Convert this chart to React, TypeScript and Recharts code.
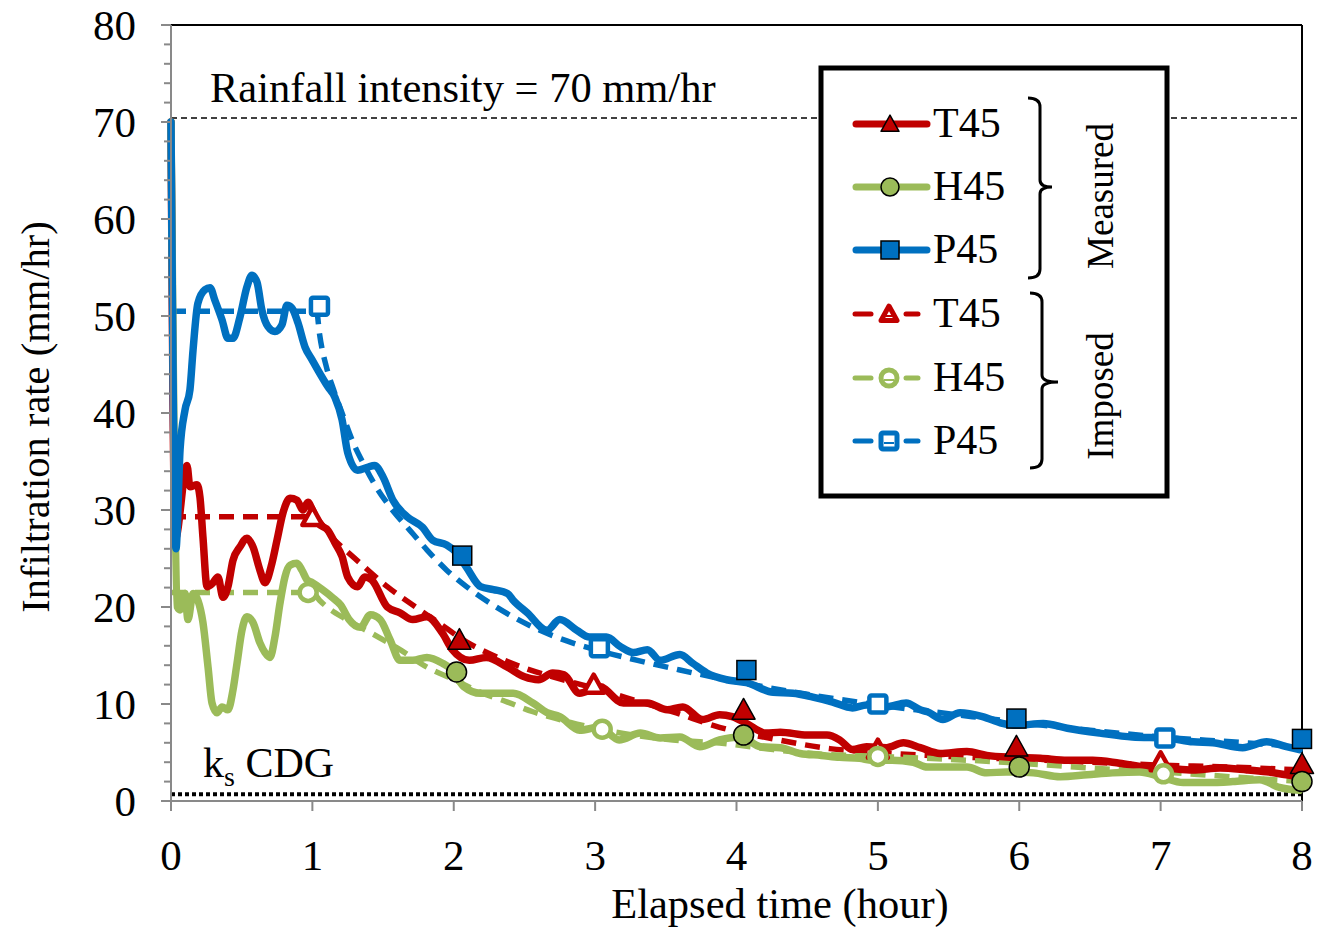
import React from 'react';
import { LineChart, Line, XAxis, YAxis, ReferenceLine } from 'recharts';

type Pt = [number, number];

const xTicks = [0, 1, 2, 3, 4, 5, 6, 7, 8];
const yTicks = Array.from({ length: 41 }, (_, i) => i * 2);

const rainfallIntensity = 70.4;
const ksCdg = 0.7;

// measured infiltration rate (solid lines)
const t45Measured: Pt[] = [
  [0, 70], [0.03, 27], [0.113, 34.6], [0.134, 32.4], [0.184, 32.6], [0.205, 31.3], [0.226, 27.2], [0.255, 22.1],
  [0.297, 22.5], [0.332, 23.1], [0.368, 21], [0.403, 22.1], [0.438, 24.8], [0.488, 26.2], [0.537, 27.1], [0.58, 26.2],
  [0.629, 23.8], [0.665, 22.5], [0.714, 24.5], [0.75, 26.9], [0.792, 29.7], [0.842, 31.2], [0.891, 31], [0.933, 30],
  [0.969, 30.8], [1.0, 30], [1.04, 28.7], [1.11, 27.9], [1.16, 26.6], [1.21, 25.2], [1.25, 23.1], [1.32, 22.1],
  [1.37, 23.1], [1.42, 22.8], [1.53, 20], [1.62, 19.4], [1.71, 18.7], [1.81, 19], [1.92, 17.3], [1.99, 15.6],
  [2.11, 14.5], [2.23, 14.8], [2.38, 13.8], [2.5, 12.8], [2.6, 12.5], [2.7, 13.2], [2.78, 13.0], [2.89, 11.1],
  [3.03, 11.8], [3.2, 10.1], [3.37, 10.1], [3.51, 9.4], [3.62, 9.7], [3.76, 8.4], [3.88, 8.9], [3.97, 8.7],
  [4.07, 8.0], [4.21, 7.0], [4.31, 7.1], [4.5, 6.8], [4.64, 6.8], [4.73, 6.3], [4.82, 5.3], [4.92, 5.6],
  [5.06, 5.5], [5.18, 6.0], [5.3, 5.5], [5.44, 4.9], [5.63, 5.1], [5.77, 4.7], [5.95, 4.5], [6.15, 4.4],
  [6.34, 4.2], [6.52, 4.2], [6.71, 3.9], [6.9, 3.5], [7.04, 3.4], [7.23, 3.2], [7.42, 3.4], [7.61, 3.2],
  [7.75, 3.0], [7.89, 2.7], [7.98, 2.5],
];

const h45Measured: Pt[] = [
  [0, 70], [0.045, 20], [0.064, 19.7], [0.099, 21.4], [0.12, 18.7], [0.156, 21.4], [0.19, 20.7], [0.226, 18.4],
  [0.262, 13.8], [0.29, 10.1], [0.325, 9.1], [0.361, 9.7], [0.403, 9.4], [0.438, 11.4], [0.467, 14.2], [0.502, 17.6],
  [0.537, 19], [0.58, 18.4], [0.629, 16.3], [0.665, 15.3], [0.7, 14.8], [0.735, 16.9], [0.771, 20.4], [0.806, 23.1],
  [0.842, 24.3], [0.891, 24.5], [0.926, 23.8], [0.962, 22.8], [1.0, 22.5], [1.07, 21.8], [1.14, 21], [1.2, 20.2],
  [1.26, 18.7], [1.34, 17.9], [1.41, 19.2], [1.48, 18.7], [1.55, 16.6], [1.62, 14.5], [1.71, 14.5], [1.81, 14.8],
  [1.92, 14.2], [1.99, 13.5], [2.07, 11.8], [2.19, 11.1], [2.28, 11.1], [2.42, 11.1], [2.56, 10.1], [2.66, 9.1],
  [2.75, 8.7], [2.89, 7.3], [3.03, 7.6], [3.17, 6.3], [3.32, 7.0], [3.46, 6.5], [3.6, 6.6], [3.74, 5.6],
  [3.88, 6.3], [4.03, 6.6], [4.17, 5.6], [4.31, 5.5], [4.45, 4.9], [4.6, 4.7], [4.73, 4.5], [4.87, 4.4],
  [4.96, 4.2], [5.1, 4.2], [5.25, 4.0], [5.35, 3.5], [5.44, 3.5], [5.63, 3.5], [5.77, 2.9], [5.91, 3.0],
  [6.1, 2.9], [6.29, 2.5], [6.48, 2.7], [6.66, 2.9], [6.85, 3.0], [7.0, 2.5], [7.16, 1.9], [7.33, 1.9],
  [7.51, 2.0], [7.7, 2.2], [7.84, 1.4], [7.98, 1.1],
];

const p45Measured: Pt[] = [
  [0, 70], [0.035, 26], [0.064, 36.2], [0.099, 40.3], [0.134, 42.4], [0.156, 46.5], [0.19, 51.3], [0.24, 52.7],
  [0.276, 52.9], [0.311, 51.6], [0.361, 49.6], [0.403, 47.7], [0.438, 47.7], [0.488, 49.9], [0.537, 53], [0.573, 54.2],
  [0.608, 53.5], [0.643, 50.6], [0.686, 48.9], [0.735, 48.4], [0.785, 49.1], [0.82, 51.1], [0.856, 50.8], [0.898, 49.3],
  [0.948, 46.8], [0.997, 45.5], [1.04, 44.4], [1.11, 42.7], [1.16, 41.6], [1.21, 39.3], [1.25, 35.9], [1.32, 34.1],
  [1.39, 34.4], [1.44, 34.6], [1.5, 33.4], [1.57, 31], [1.67, 29.3], [1.78, 28.2], [1.85, 26.9], [1.95, 26.4],
  [2.02, 25.6], [2.09, 24.1], [2.19, 22.1], [2.28, 21.8], [2.38, 21.4], [2.42, 20.7], [2.52, 19.4], [2.66, 17.6],
  [2.75, 18.7], [2.87, 17.6], [2.96, 16.9], [3.08, 16.9], [3.18, 15.9], [3.27, 15.3], [3.37, 15.6], [3.46, 14.5],
  [3.6, 15.1], [3.69, 14.2], [3.79, 13.2], [3.93, 12.5], [4.07, 12.2], [4.26, 11.2], [4.4, 11.1], [4.54, 10.7],
  [4.68, 10.2], [4.82, 9.6], [4.92, 9.9], [5.06, 9.7], [5.2, 10.1], [5.3, 9.4], [5.35, 9.2], [5.46, 8.4],
  [5.58, 9.1], [5.74, 8.7], [5.88, 8.0], [5.98, 7.8], [6.17, 8.0], [6.34, 7.5], [6.57, 7.0], [6.8, 6.6],
  [7.04, 6.5], [7.23, 6.1], [7.37, 6.0], [7.58, 5.5], [7.75, 6.1], [7.89, 5.6], [7.98, 5.3],
];

// measured sample points (filled markers)
const t45MeasuredMarks: Pt[] = [[2.04, 16.6], [4.05, 9.4], [5.98, 5.6], [8.0, 3.8]];
const h45MeasuredMarks: Pt[] = [[2.02, 13.3], [4.05, 6.8], [6.0, 3.5], [8.0, 2.0]];
const p45MeasuredMarks: Pt[] = [[2.06, 25.3], [4.07, 13.5], [5.98, 8.5], [8.0, 6.4]];

// imposed infiltration rate (dashed lines)
const t45Imposed: Pt[] = [
  [0, 29.3], [1.0, 29.3], [1.15, 27], [1.34, 24.5], [1.53, 22.1], [1.71, 20.2], [1.9, 18.3], [2.09, 16.4],
  [2.28, 15], [2.5, 13.7], [2.75, 12.6], [3.0, 11.6], [3.3, 10.3], [3.55, 9.2], [3.88, 7.6], [4.26, 6.4],
  [4.66, 5.4], [5.0, 5.0], [5.5, 4.6], [6.0, 4.3], [6.5, 4.0], [7.0, 3.7], [7.5, 3.5], [8.0, 3.2],
];
const h45Imposed: Pt[] = [
  [0, 21.5], [1.0, 21.5], [1.05, 20.7], [1.24, 18.7], [1.43, 17.2], [1.62, 15.6], [1.81, 13.8], [1.99, 12.6],
  [2.19, 11.2], [2.38, 10.2], [2.56, 9.2], [2.75, 8.4], [3.0, 7.5], [3.27, 6.8], [3.55, 6.3], [3.93, 5.9],
  [4.26, 5.3], [4.64, 4.8], [5.0, 4.6], [5.5, 4.3], [6.0, 3.9], [6.5, 3.4], [7.0, 3.0], [7.5, 2.5], [8.0, 2.0],
];
const p45Imposed: Pt[] = [
  [0, 50.5], [1.03, 50.5], [1.05, 48.2], [1.1, 44.7], [1.15, 42.4], [1.22, 39.6], [1.29, 36.9], [1.36, 34.8],
  [1.45, 32.4], [1.55, 30.3], [1.69, 27.9], [1.81, 25.9], [1.95, 23.8], [2.09, 22.1], [2.3, 20], [2.55, 18],
  [2.8, 16.5], [3.0, 15.6], [3.3, 14.5], [3.6, 13.5], [4.0, 12.3], [4.5, 11], [5.0, 9.9], [5.5, 9.0],
  [6.0, 8.1], [6.5, 7.3], [7.0, 6.6], [7.5, 6.1], [8.0, 5.6],
];

const t45ImposedMarks: Pt[] = [[1.0, 29.3], [2.99, 12.0], [5.0, 5.3], [7.0, 4.0]];
const h45ImposedMarks: Pt[] = [[0.97, 21.5], [3.05, 7.4], [5.0, 4.6], [7.02, 2.8]];
const p45ImposedMarks: Pt[] = [[1.05, 51.0], [3.03, 15.8], [5.0, 10.0], [7.03, 6.5]];

const RED = '#C00000';
const GREEN = '#9BBB59';
const BLUE = '#0070C0';
const GRID = '#898989';
const FONT = '"Liberation Serif", "Times New Roman", serif';

const rows = (pts: Pt[]) => pts.map(([t, v]) => ({ t, v }));

type Shape = 'tri' | 'circle' | 'square';

const shapeEl = (shape: Shape, cx: number, cy: number, s: number, fill: string, stroke: string, sw: number, key?: string) => {
  if (shape === 'tri') {
    const h = s * 0.9;
    return <path key={key} d={`M${cx},${cy - h * 0.55} L${cx + s / 2},${cy + h * 0.45} L${cx - s / 2},${cy + h * 0.45} Z`} fill={fill} stroke={stroke} strokeWidth={sw} strokeLinejoin="round" />;
  }
  if (shape === 'circle') return <circle key={key} cx={cx} cy={cy} r={s / 2} fill={fill} stroke={stroke} strokeWidth={sw} />;
  return <rect key={key} x={cx - s / 2} y={cy - s / 2} width={s} height={s} fill={fill} stroke={stroke} strokeWidth={sw} rx={stroke !== '#000' ? 2 : 0} />;
};

const markerDot = (name: string, shape: Shape, s: number, fill: string, stroke: string, sw: number) => (p: any) => {
  const key = `${name}-${p.index}`;
  if (p.cx == null || p.cy == null) return <g key={key} />;
  return shapeEl(shape, p.cx, p.cy, s, fill, stroke, sw, key);
};

const YTick = (props: any) => {
  const { x, y, payload } = props;
  const major = payload.value % 10 === 0;
  return (
    <g>
      <line x1={x - (major ? 10 : 7)} x2={x} y1={y} y2={y} stroke={GRID} strokeWidth={2} />
      {major && (
        <text x={x - 35} y={y} dy="0.35em" textAnchor="end" fontSize={43} fontFamily={FONT} fill="#000">
          {payload.value}
        </text>
      )}
    </g>
  );
};

const legendRows = [
  { label: 'T45', color: RED, shape: 'tri' as Shape, imposed: false, y: 124 },
  { label: 'H45', color: GREEN, shape: 'circle' as Shape, imposed: false, y: 187 },
  { label: 'P45', color: BLUE, shape: 'square' as Shape, imposed: false, y: 250 },
  { label: 'T45', color: RED, shape: 'tri' as Shape, imposed: true, y: 314 },
  { label: 'H45', color: GREEN, shape: 'circle' as Shape, imposed: true, y: 378 },
  { label: 'P45', color: BLUE, shape: 'square' as Shape, imposed: true, y: 441 },
];

const Overlay = () => (
  <svg width={1321} height={932} style={{ position: 'absolute', left: 0, top: 0, pointerEvents: 'none' }} fontFamily={FONT}>
    <text x={210} y={102} fontSize={42.5} fill="#000">Rainfall intensity = 70 mm/hr</text>
    <text x={203} y={777} fontSize={42} fill="#000">
      k<tspan dy={9} fontSize={28}>s</tspan><tspan dy={-9}> CDG</tspan>
    </text>
    <text transform="translate(49,417) rotate(-90)" textAnchor="middle" fontSize={40.5} fill="#000">Infiltration rate (mm/hr)</text>
    <text x={780} y={918} textAnchor="middle" fontSize={42.5} fill="#000">Elapsed time (hour)</text>

    <rect x={821} y={68} width={346} height={428} fill="#fff" stroke="#000" strokeWidth={5} />
    {legendRows.map((r, i) => (
      <g key={i}>
        {r.imposed ? (
          <>
            <line x1={855} x2={871} y1={r.y} y2={r.y} stroke={r.color} strokeWidth={5} strokeLinecap="round" />
            <line x1={906} x2={918} y1={r.y} y2={r.y} stroke={r.color} strokeWidth={5} strokeLinecap="round" />
            {shapeEl(r.shape, 889, r.y, 16, '#fff', r.color, 5)}
            <line x1={884} x2={894} y1={r.y + 2} y2={r.y + 2} stroke={r.color} strokeWidth={2} />
          </>
        ) : (
          <>
            <line x1={856} x2={927} y1={r.y} y2={r.y} stroke={r.color} strokeWidth={7} strokeLinecap="round" />
            {shapeEl(r.shape, 890, r.y, 18, r.color, '#000', 1.5)}
          </>
        )}
        <text x={933} y={r.y + 13} fontSize={42} fill="#000">{r.label}</text>
      </g>
    ))}
    <path d="M1028,98 Q1040,98 1040,107 L1040,180 Q1040,187 1052,187 Q1040,187 1040,194 L1040,269 Q1040,278 1028,278" fill="none" stroke="#000" strokeWidth={3} />
    <path d="M1030,293 Q1042,293 1042,302 L1042,375 Q1042,382 1058,382 Q1042,382 1042,389 L1042,459 Q1042,468 1030,468" fill="none" stroke="#000" strokeWidth={3} />
    <text transform="translate(1113,196) rotate(-90)" textAnchor="middle" fontSize={37} fill="#000">Measured</text>
    <text transform="translate(1113,396) rotate(-90)" textAnchor="middle" fontSize={37} fill="#000">Imposed</text>
  </svg>
);

export default function App() {
  return (
    <div style={{ position: 'absolute', left: 0, top: 0, width: 1321, height: 932, background: '#fff' }}>
      <LineChart width={1321} height={932} margin={{ top: 25, right: 19, bottom: 0, left: 0 }}>
        <XAxis
          type="number"
          dataKey="t"
          domain={[0, 8]}
          ticks={xTicks}
          interval={0}
          height={131}
          tickSize={10}
          tickMargin={28}
          axisLine={{ stroke: GRID, strokeWidth: 2 }}
          tickLine={{ stroke: GRID, strokeWidth: 2 }}
          tick={{ fill: '#000', fontSize: 43, fontFamily: FONT }}
          allowDuplicatedCategory={false}
        />
        <YAxis
          type="number"
          domain={[0, 80]}
          ticks={yTicks}
          interval={0}
          width={171}
          tickSize={0}
          tickMargin={0}
          tickLine={false}
          axisLine={{ stroke: GRID, strokeWidth: 2 }}
          tick={<YTick />}
        />
        <ReferenceLine y={80} stroke="#000" strokeWidth={2} />
        <ReferenceLine x={8} stroke="#000" strokeWidth={2} />
        <ReferenceLine y={rainfallIntensity} stroke="#000" strokeWidth={1.5} strokeDasharray="6 4" />
        <ReferenceLine y={ksCdg} stroke="#000" strokeWidth={4} strokeDasharray="4 3" />

        <Line data={rows(t45Imposed)} dataKey="v" stroke={RED} strokeWidth={5.5} strokeDasharray="15 9" dot={false} activeDot={false} isAnimationActive={false} type="monotone" />
        <Line data={rows(h45Imposed)} dataKey="v" stroke={GREEN} strokeWidth={5.5} strokeDasharray="15 9" dot={false} activeDot={false} isAnimationActive={false} type="monotone" />
        <Line data={rows(p45Imposed)} dataKey="v" stroke={BLUE} strokeWidth={5.5} strokeDasharray="15 9" dot={false} activeDot={false} isAnimationActive={false} type="monotone" />

        <Line data={rows(t45Measured)} dataKey="v" stroke={RED} strokeWidth={7.5} strokeLinejoin="round" strokeLinecap="round" dot={false} activeDot={false} isAnimationActive={false} type="monotone" />
        <Line data={rows(h45Measured)} dataKey="v" stroke={GREEN} strokeWidth={7.5} strokeLinejoin="round" strokeLinecap="round" dot={false} activeDot={false} isAnimationActive={false} type="monotone" />
        <Line data={rows(p45Measured)} dataKey="v" stroke={BLUE} strokeWidth={7.5} strokeLinejoin="round" strokeLinecap="round" dot={false} activeDot={false} isAnimationActive={false} type="monotone" />

        <Line data={rows(t45MeasuredMarks)} dataKey="v" stroke="none" dot={markerDot('tm', 'tri', 23, RED, '#000', 1.5)} activeDot={false} isAnimationActive={false} />
        <Line data={rows(h45MeasuredMarks)} dataKey="v" stroke="none" dot={markerDot('hm', 'circle', 20, GREEN, '#000', 1.5)} activeDot={false} isAnimationActive={false} />
        <Line data={rows(p45MeasuredMarks)} dataKey="v" stroke="none" dot={markerDot('pm', 'square', 19, BLUE, '#000', 1.5)} activeDot={false} isAnimationActive={false} />

        <Line data={rows(t45ImposedMarks)} dataKey="v" stroke="none" dot={markerDot('ti', 'tri', 20, '#fff', RED, 4.5)} activeDot={false} isAnimationActive={false} />
        <Line data={rows(h45ImposedMarks)} dataKey="v" stroke="none" dot={markerDot('hi', 'circle', 17, '#fff', GREEN, 4.5)} activeDot={false} isAnimationActive={false} />
        <Line data={rows(p45ImposedMarks)} dataKey="v" stroke="none" dot={markerDot('pi', 'square', 17, '#fff', BLUE, 4.5)} activeDot={false} isAnimationActive={false} />
      </LineChart>
      <Overlay />
    </div>
  );
}
